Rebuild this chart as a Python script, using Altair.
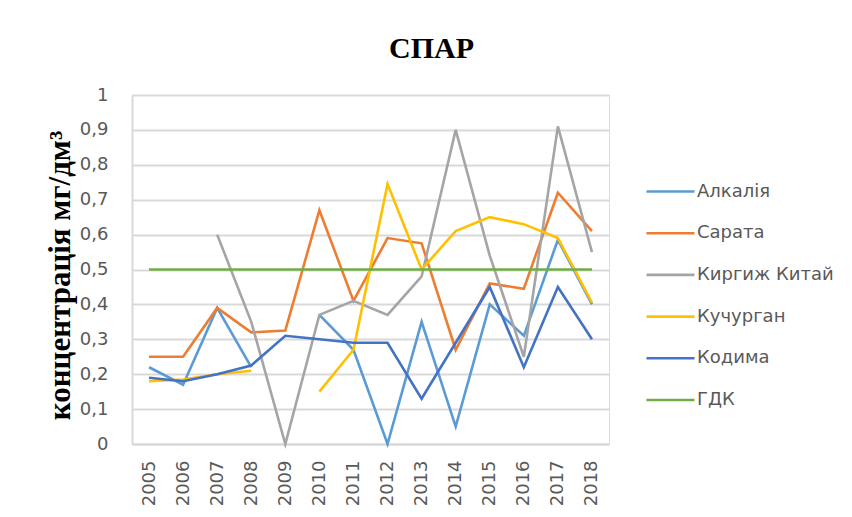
import altair as alt
import pandas as pd

years = ["2005", "2006", "2007", "2008", "2009", "2010", "2011",
         "2012", "2013", "2014", "2015", "2016", "2017", "2018"]
series_names = ["Алкалія", "Сарата", "Киргиж Китай", "Кучурган", "Кодима", "ГДК"]
series_colors = ["#5B9BD5", "#ED7D31", "#A5A5A5", "#FFC000", "#4472C4", "#70AD47"]

alkaliia = [0.22, 0.17, 0.39, 0.22, None, 0.37, 0.27, 0.0, 0.35, 0.05, 0.40, 0.31, 0.585, 0.40]
sarata = [0.25, 0.25, 0.39, 0.32, 0.325, 0.67, 0.41, 0.59, 0.575, 0.27, 0.46, 0.445, 0.72, 0.61]
kyrhyzh_kytai = [None, None, 0.60, 0.35, 0.0, 0.37, 0.41, 0.37, 0.48, 0.90, 0.54, 0.25, 0.91, 0.55]
kuchurhan = [0.18, 0.185, 0.20, 0.21, None, 0.15, 0.27, 0.745, 0.50, 0.61, 0.65, 0.63, 0.59, 0.405]
kodyma = [0.19, 0.18, 0.20, 0.225, 0.31, 0.30, 0.29, 0.29, 0.13, 0.29, 0.45, 0.22, 0.45, 0.30]
gdk = [0.5, 0.5, 0.5, 0.5, 0.5, 0.5, 0.5, 0.5, 0.5, 0.5, 0.5, 0.5, 0.5, 0.5]

y_ticks = [0, 0.1, 0.2, 0.3, 0.4, 0.5, 0.6, 0.7, 0.8, 0.9, 1]

rows = []
for name, vals in zip(series_names, [alkaliia, sarata, kyrhyzh_kytai, kuchurhan, kodyma, gdk]):
    for yr, v in zip(years, vals):
        rows.append({"year": yr, "series": name, "value": v})
df = pd.DataFrame(rows)

label_font = "DejaVu Sans"
label_color = "#595959"
grid_color = "#D9D9D9"

chart = alt.Chart(df).mark_line(
    strokeWidth=2.6, invalid="break-paths-show-domains"
).encode(
    x=alt.X("year:O", sort=years, title=None,
            scale=alt.Scale(type="point", padding=0.5),
            axis=alt.Axis(labelAngle=-90, labelAlign="right", labelBaseline="middle",
                          labelPadding=16, ticks=False, domain=True,
                          domainColor=grid_color, domainWidth=2,
                          labelFont=label_font, labelFontSize=18, labelColor=label_color)),
    y=alt.Y("value:Q", title="концентрація мг/дм³",
            scale=alt.Scale(domain=[0, 1], nice=False, zero=True),
            axis=alt.Axis(values=y_ticks, grid=True, gridColor=grid_color, gridWidth=2,
                          domain=True, domainColor=grid_color, domainWidth=2,
                          ticks=False, labelPadding=24,
                          labelExpr="replace(format(datum.value, '.1~f'), '.', ',')",
                          labelFont=label_font, labelFontSize=18, labelColor=label_color,
                          titleFont="Liberation Serif", titleFontSize=31, titleFontWeight="bold",
                          titleColor="#000000", titleAngle=-90, titleAlign="center",
                          titleBaseline="alphabetic", titleX=-63, titleY=180)),
    color=alt.Color("series:N",
                    scale=alt.Scale(domain=series_names, range=series_colors),
                    legend=alt.Legend(title=None, orient="none", legendX=513, legendY=71,
                                      symbolType="stroke", symbolSize=2304,
                                      symbolStrokeWidth=2.6, labelOffset=1,
                                      labelFont=label_font, labelFontSize=18,
                                      labelColor=label_color, rowPadding=6.7, padding=0,
                                      labelLimit=300)),
).properties(
    width=477, height=349,
    padding={"left": 124, "top": 87, "right": 235, "bottom": 65},
    autosize=alt.AutoSizeParams(type="none"),
    title=alt.TitleParams("СПАР", font="Liberation Serif", fontSize=30, fontWeight="bold",
                          color="#000000", anchor="middle", dx=61, dy=41,
                          baseline="alphabetic", offset=39),
).configure_view(stroke=None).configure(background="white")

chart.save("out.html", embed_options={"renderer": "svg", "actions": False})
